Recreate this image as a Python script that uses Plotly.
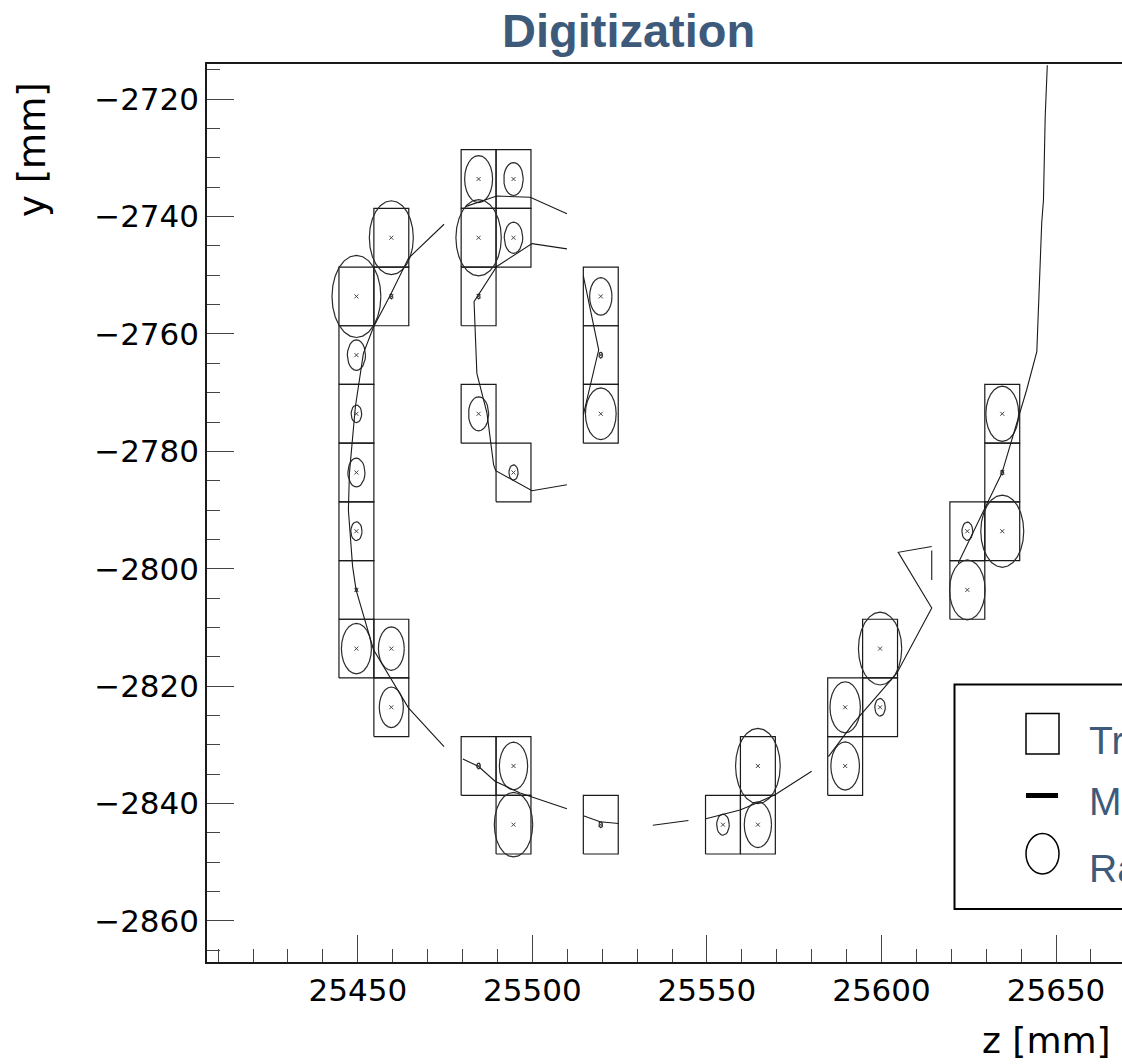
import numpy as np
import plotly.graph_objects as go

# ---------------------------------------------------------------------------
# Digitized drift cells: centre position (z, y) in mm and reconstructed drift radius
# ---------------------------------------------------------------------------
cell_z = [
    25449.6, 25449.6, 25449.6, 25449.6, 25449.6, 25449.6, 25449.6,
    25459.6, 25459.6, 25459.6, 25459.6,
    25484.6, 25484.6, 25484.6, 25484.6, 25484.6,
    25494.6, 25494.6, 25494.6, 25494.6, 25494.6,
    25519.6, 25519.6, 25519.6, 25519.6,
    25554.6,
    25564.6, 25564.6,
    25589.6, 25589.6,
    25599.6, 25599.6,
    25624.6, 25624.6,
    25634.6, 25634.6, 25634.6,
]
cell_y = [
    -2753.6, -2763.6, -2773.6, -2783.6, -2793.6, -2803.6, -2813.6,
    -2743.6, -2753.6, -2813.6, -2823.6,
    -2733.6, -2743.6, -2753.6, -2773.6, -2833.6,
    -2733.6, -2743.6, -2783.6, -2833.6, -2843.6,
    -2753.6, -2763.6, -2773.6, -2843.6,
    -2843.6,
    -2833.6, -2843.6,
    -2823.6, -2833.6,
    -2813.6, -2823.6,
    -2793.6, -2803.6,
    -2773.6, -2783.6, -2793.6,
]
cell_r = [
    7.0, 2.6, 1.5, 2.45, 1.6, 0.3, 4.3,
    6.3, 0.4, 3.7, 3.45,
    4.0, 6.5, 0.4, 2.9, 0.5,
    2.8, 2.65, 1.3, 4.05, 5.5,
    3.2, 0.5, 4.4, 0.5,
    1.8,
    6.4, 3.9,
    4.35, 4.1,
    6.2, 1.5,
    1.55, 5.1,
    4.7, 0.4, 6.15,
]
CELL_SIZE = 10.0  # mm, square cell pitch

# MC trajectory, projected on the z-y plane (None separates the pieces)
track_z = [
    25474.7, 25464.5, 25459.3, 25454.5, 25451.6, 25449.3, 25447.6, 25447.3,
    25448.5, 25449.5, 25454.5, 25464.5, 25474.7, None,
    25480.1, 25484.6, 25489.3, 25496.5, 25509.9, None,
    25514.6, 25519.4, 25524.7, None,
    25534.5, 25544.7, None,
    25549.7, 25559.5, 25564.3, 25569.5, 25580.0, None,
    25584.8, 25592.0, 25604.4, 25614.4, 25604.8, 25614.4, None,
    25614.4, 25614.4, None,
    25622.0, 25630.2, 25634.5, 25639.2, 25641.6, 25644.5, 25645.9, 25646.4,
    25646.9, 25647.5, None,
    25480.8, 25489.8, 25499.4, 25509.9, None,
    25509.9, 25499.9, 25489.8, 25484.6, 25483.3, 25484.1, 25487.0, 25488.9,
    25489.5, 25499.9, 25509.9, None,
    25514.6, 25519.0, 25514.6,
]
track_y = [
    -2741.3, -2747.1, -2753.4, -2758.8, -2763.3, -2772.4, -2783.7, -2790.0,
    -2799.6, -2803.6, -2813.8, -2823.7, -2830.3, None,
    -2832.4, -2833.7, -2836.2, -2838.2, -2840.9, None,
    -2842.1, -2843.1, -2843.4, None,
    -2843.7, -2842.9, None,
    -2842.6, -2841.1, -2839.9, -2838.5, -2834.5, None,
    -2832.0, -2826.3, -2817.8, -2806.7, -2797.2, -2796.2, None,
    -2796.9, -2801.9, None,
    -2799.0, -2788.8, -2783.7, -2774.3, -2769.5, -2763.0, -2741.1, -2737.2,
    -2723.0, -2714.2, None,
    -2738.3, -2736.5, -2736.7, -2739.5, None,
    -2745.5, -2744.6, -2748.5, -2753.3, -2754.5, -2766.7, -2773.5, -2782.3,
    -2783.3, -2786.7, -2785.7, None,
    -2750.1, -2762.7, -2773.8,
]

legend_labels = ["Triggered cells", "MC trajectory", "Radius"]
title_text = "Digitization"
x_title, y_title = "z [mm]", "y [mm]"

# ---------------------------------------------------------------------------
# Canvas geometry
# ---------------------------------------------------------------------------
W, H = 1122, 1064
ML, MR, MT, MB = 207, 0, 64, 102
PW, PH = W - ML - MR, H - MT - MB


def pxx(x):
    """pixel column -> paper x"""
    return (x - ML) / PW


def pxy(y):
    """pixel row -> paper y"""
    return (H - MB - y) / PH


TXT_BLUE = "#3d5a7a"
INK = "#1a1a1a"

# cell outlines
box_x, box_y = [], []
h = CELL_SIZE / 2
for z, y in zip(cell_z, cell_y):
    box_x += [z - h, z + h, z + h, z - h, z - h, None]
    box_y += [y - h, y - h, y + h, y + h, y - h, None]

# drift circles (polygonal, as drawn by the event display)
phi = np.linspace(0, 2 * np.pi, 25)
circ_x, circ_y = [], []
for z, y, r in zip(cell_z, cell_y, cell_r):
    circ_x += list(z + r * np.cos(phi)) + [None]
    circ_y += list(y + r * np.sin(phi)) + [None]

fig = go.Figure()
fig.add_trace(go.Scatter(x=box_x, y=box_y, mode="lines",
                         line=dict(color=INK, width=1.2), hoverinfo="skip"))
fig.add_trace(go.Scatter(x=circ_x, y=circ_y, mode="lines",
                         line=dict(color="#2b2b2b", width=1.2), hoverinfo="skip"))
fig.add_trace(go.Scatter(x=track_z, y=track_y, mode="lines",
                         line=dict(color=INK, width=1.1), connectgaps=False,
                         hoverinfo="skip"))
fig.add_trace(go.Scatter(x=cell_z, y=cell_y, mode="markers",
                         marker=dict(symbol="x-thin", size=4,
                                     line=dict(color="#444444", width=1)),
                         hoverinfo="skip"))

tick_font = dict(family="DejaVu Sans", size=31, color="#000000")
fig.update_xaxes(
    range=[25406.8, 25668.9], showgrid=False, zeroline=False,
    showline=True, linecolor=INK, linewidth=1.5, mirror=True,
    ticks="inside", ticklen=27, tickwidth=1.2, tickcolor="#444444",
    tick0=25450, dtick=50, tickformat="d", tickfont=tick_font,
    ticklabelstandoff=0,
    minor=dict(ticks="inside", ticklen=13, dtick=10, tickwidth=1.2,
               tickcolor="#444444", showgrid=False),
)
fig.update_yaxes(
    range=[-2867.0, -2714.0], showgrid=False, zeroline=False,
    showline=True, linecolor=INK, linewidth=1.5, mirror=False,
    ticks="inside", ticklen=27, tickwidth=1.2, tickcolor="#444444",
    tick0=-2720, dtick=20, tickformat="d", tickfont=tick_font,
    ticklabelstandoff=0,
    minor=dict(ticks="inside", ticklen=13, dtick=5, tickwidth=1.2,
               tickcolor="#444444", showgrid=False),
)

shapes = [
    # legend frame (runs past the right edge of the canvas)
    dict(type="rect", xref="paper", yref="paper",
         x0=pxx(954.5), x1=pxx(1400), y0=pxy(909), y1=pxy(684.5),
         line=dict(color="#000000", width=2), fillcolor="white", layer="above"),
    dict(type="rect", xref="paper", yref="paper",
         x0=pxx(1026), x1=pxx(1059), y0=pxy(754), y1=pxy(713.5),
         line=dict(color="#000000", width=1.5), layer="above"),
    dict(type="line", xref="paper", yref="paper",
         x0=pxx(1026), x1=pxx(1058), y0=pxy(795.5), y1=pxy(795.5),
         line=dict(color="#000000", width=5), layer="above"),
    dict(type="circle", xref="paper", yref="paper",
         x0=pxx(1026), x1=pxx(1059), y0=pxy(874), y1=pxy(833.5),
         line=dict(color="#000000", width=1.5), layer="above"),
]

annotations = [
    dict(text=f"<b>{title_text}</b>", xref="paper", yref="paper",
         x=pxx(628.5), y=pxy(30), xanchor="center", yanchor="middle",
         showarrow=False,
         font=dict(family="Liberation Sans", size=47, color=TXT_BLUE)),
    dict(text=y_title, xref="paper", yref="paper", textangle=-90,
         x=pxx(33), y=pxy(150), xanchor="center", yanchor="middle",
         showarrow=False, font=dict(family="DejaVu Sans", size=37, color="#000000")),
    dict(text=x_title, xref="paper", yref="paper",
         x=pxx(1046), y=pxy(1040), xanchor="center", yanchor="middle",
         showarrow=False, font=dict(family="DejaVu Sans", size=36, color="#000000")),
]
for label, yc in zip(legend_labels, [741, 801, 868]):
    annotations.append(dict(
        text=label, xref="paper", yref="paper", x=pxx(1087), y=pxy(yc),
        xanchor="left", yanchor="middle", showarrow=False,
        font=dict(family="Liberation Sans", size=39, color=TXT_BLUE)))

fig.update_layout(
    width=W, height=H,
    margin=dict(l=ML, r=MR, t=MT, b=MB, pad=0),
    paper_bgcolor="white", plot_bgcolor="white",
    showlegend=False,
    shapes=shapes, annotations=annotations,
)

fig.write_html("out.html", config={"displayModeBar": False})
